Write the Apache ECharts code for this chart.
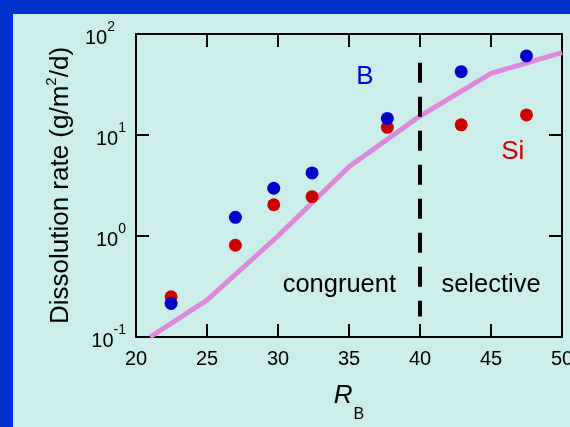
<!DOCTYPE html>
<html>
<head>
<meta charset="utf-8">
<script src="https://cdn.jsdelivr.net/npm/echarts@6/dist/echarts.min.js"></script>
<style>
  html, body { margin: 0; padding: 0; width: 570px; height: 427px; background: #0033cc; overflow: hidden; }
  #chart { position: absolute; left: 13px; top: 14px; width: 557px; height: 413px; background: #cceeea; }
</style>
</head>
<body>
<div id="chart"></div>
<script>
// ---- data ----
const rB = [22.47, 27.0, 29.7, 32.4, 37.7, 42.9, 47.5];
const siRate = [0.25, 0.81, 2.04, 2.45, 11.9, 12.6, 15.8];
const bRate = [0.215, 1.53, 2.97, 4.21, 14.6, 42.4, 60.6];
const modelR = [21, 25, 30, 35, 40, 45, 50];
const modelRate = [0.1, 0.232, 1.0, 4.85, 15.4, 40.7, 65.3];
const boundaryR = [40, 40];
const boundaryRate = [52, 0.16];
const xTickValues = [20, 25, 30, 35, 40, 45, 50];
const yTickValues = [0.1, 1, 10, 100];
const annotations = [
  { text: 'B', r: 36.12, rate: 37.8, kind: 'b' },
  { text: 'Si', r: 46.53, rate: 6.84, kind: 'si' },
  { text: 'congruent', r: 34.32, rate: 0.327, kind: 'region' },
  { text: 'selective', r: 45.0, rate: 0.327, kind: 'region' }
];

const FONT = 'Liberation Sans, Arial, Helvetica, sans-serif';
const chart = echarts.init(document.getElementById('chart'), null, { renderer: 'canvas' });

const zip = (a, b) => a.map((v, i) => [v, b[i]]);

function yLabel(v) {
  const e = Math.round(Math.log10(v));
  if (e === 2) return '{b|10}{s2|' + e + '}';
  return '{b|10}{s|' + e + '}';
}

const axisCommon = {
  axisLine: { show: true, onZero: false, lineStyle: { color: '#000', width: 2 } },
  axisTick: { show: true, inside: true, length: 13, lineStyle: { color: '#000', width: 2 } },
  splitLine: { show: false },
  minorTick: { show: false }
};

const option = {
  backgroundColor: 'transparent',
  animation: false,
  grid: { left: 123, right: 8, top: 20, bottom: 90, containLabel: false, outerBoundsMode: 'none' },
  xAxis: [
    Object.assign({
      type: 'value', position: 'bottom', min: xTickValues[0], max: xTickValues[xTickValues.length - 1], interval: 5,
      axisLabel: { show: true, color: '#000', fontSize: 20, fontFamily: FONT, margin: 12, showMinLabel: true, showMaxLabel: true, hideOverlap: false },
      name: '{r|R}{sub|B}',
      nameLocation: 'middle',
      nameGap: 46,
      nameTextStyle: {
        rich: {
          r: { fontSize: 26, fontStyle: 'italic', fontFamily: FONT, color: '#000', lineHeight: 26, verticalAlign: 'top' },
          sub: { fontSize: 16, fontFamily: FONT, color: '#000', lineHeight: 16, verticalAlign: 'top', padding: [24, 0, 0, 1] }
        }
      }
    }, axisCommon),
    Object.assign({
      type: 'value', position: 'top', min: xTickValues[0], max: xTickValues[xTickValues.length - 1], interval: 5,
      axisLabel: { show: false }
    }, axisCommon)
  ],
  yAxis: [
    Object.assign({
      type: 'log', logBase: 10, position: 'left', min: yTickValues[0], max: yTickValues[yTickValues.length - 1],
      axisLabel: {
        show: true, margin: 10, formatter: yLabel, showMinLabel: true, showMaxLabel: true,
        rich: {
          b: { fontSize: 20, fontFamily: FONT, color: '#000', lineHeight: 28, verticalAlign: 'bottom' },
          s: { fontSize: 14, fontFamily: FONT, color: '#000', lineHeight: 14, verticalAlign: 'top' },
          s2: { fontSize: 14, fontFamily: FONT, color: '#000', lineHeight: 14, verticalAlign: 'top', padding: [0, 11, 0, 0] }
        }
      },
      name: '{t|Dissolution rate (g/m}{s|2}{t|/d)}',
      nameLocation: 'middle',
      nameGap: 55,
      nameTextStyle: {
        rich: {
          t: { fontSize: 26, fontFamily: FONT, color: '#000', lineHeight: 33 },
          s: { fontSize: 15, fontFamily: FONT, color: '#000', lineHeight: 15, verticalAlign: 'top' }
        }
      }
    }, axisCommon),
    Object.assign({
      type: 'log', logBase: 10, position: 'right', min: yTickValues[0], max: yTickValues[yTickValues.length - 1],
      axisLabel: { show: false }
    }, axisCommon)
  ],
  series: [
    {
      name: 'model', type: 'line', xAxisIndex: 0, yAxisIndex: 0,
      data: zip(modelR, modelRate), symbol: 'none', clip: false,
      lineStyle: { color: '#dd88dd', width: 5 }, z: 2
    },
    {
      name: 'boundary', type: 'line', xAxisIndex: 0, yAxisIndex: 0,
      data: zip(boundaryR, boundaryRate), symbol: 'none',
      lineStyle: { color: '#000', width: 4, type: [20, 14] }, z: 3
    },
    {
      name: 'Si', type: 'scatter', data: zip(rB, siRate), symbol: 'circle', symbolSize: 13,
      itemStyle: { color: '#cc0000', opacity: 1 }, z: 4
    },
    {
      name: 'B', type: 'scatter', data: zip(rB, bRate), symbol: 'circle', symbolSize: 13,
      itemStyle: { color: '#0000cc', opacity: 1 }, z: 5
    },
    {
      name: 'annotations', type: 'scatter', symbolSize: 0, silent: true, z: 6,
      itemStyle: { opacity: 1 },
      data: annotations.map(a => ({ value: [a.r, a.rate], name: a.text,
        label: {
          show: true, position: 'inside', formatter: a.text, fontFamily: FONT,
          fontSize: a.kind === 'region' ? 25.5 : 26,
          textBorderWidth: 0, opacity: 1,
          color: a.kind === 'b' ? '#0000cc' : (a.kind === 'si' ? '#cc0000' : '#000')
        }
      }))
    }
  ]
};
chart.setOption(option);
</script>
</body>
</html>
